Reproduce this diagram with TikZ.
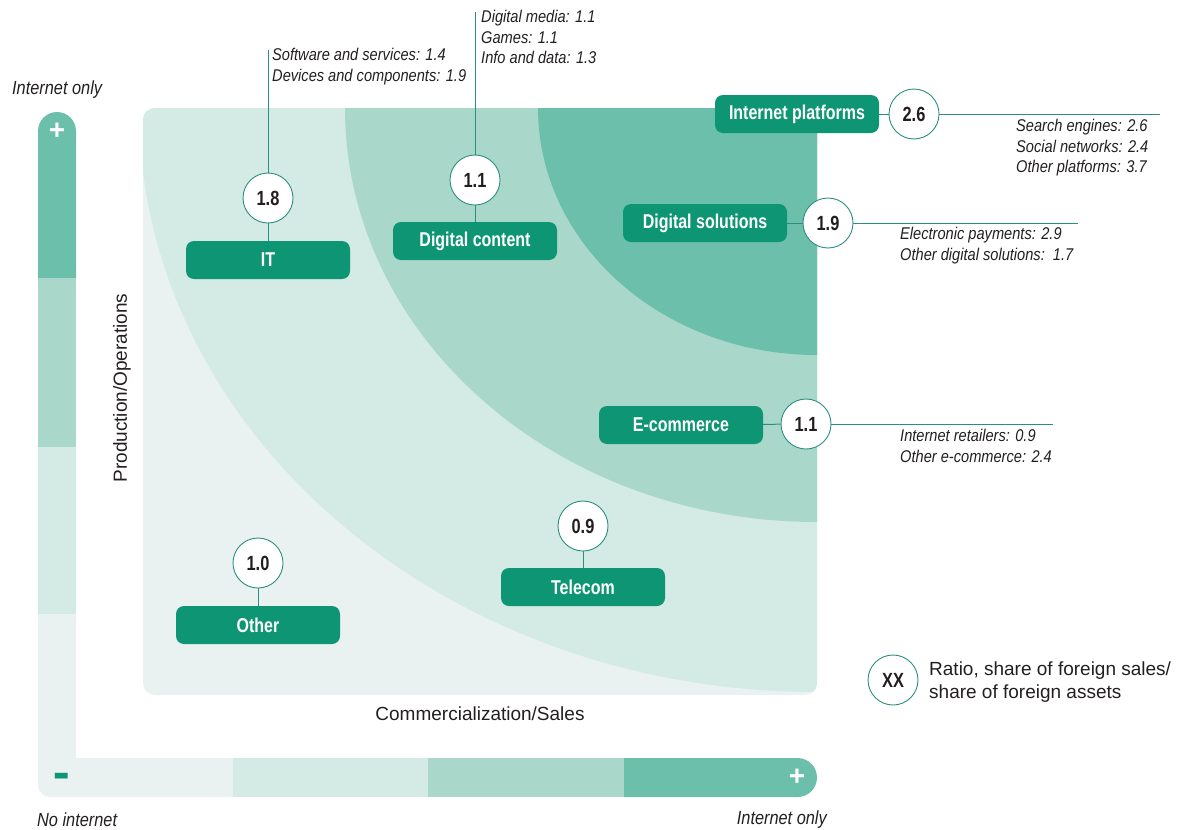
\documentclass[tikz,border=0pt]{standalone}
\usepackage{graphicx}
\usepackage{fontspec}
\setmainfont{Liberation Sans}
\newfontfamily\condf{Liberation Sans}[FakeStretch=0.8]
\newfontfamily\annf{Liberation Sans}[FakeStretch=0.86]
\definecolor{cL}{HTML}{E9F2F0}
\definecolor{cA}{HTML}{D4EAE4}
\definecolor{cB}{HTML}{A9D8CB}
\definecolor{cC}{HTML}{6CBFAB}
\definecolor{gnode}{HTML}{0E9674}
\definecolor{gline}{HTML}{2A8F7E}
\definecolor{txt}{HTML}{231F20}
\tikzset{
  box/.style={fill=gnode, rounded corners=8pt, minimum width=164pt, minimum height=38pt, text=white, font=\condf\bfseries\fontsize{20}{20}\selectfont, inner sep=0pt},
  num/.style={circle, draw=gline, line width=0.9pt, fill=white, minimum size=50pt, inner sep=0pt, text=txt, font=\condf\bfseries\fontsize{20.5}{20.5}\selectfont},
  ln/.style={draw=gline, line width=1pt},
  ann/.style={anchor=north west, align=left, inner sep=0pt, text=txt, font=\annf\itshape\fontsize{17}{20.5}\selectfont},
  axlab/.style={inner sep=0pt, text=txt, font=\annf\itshape\fontsize{19}{19}\selectfont},
  axis/.style={inner sep=0pt, text=txt, font=\fontsize{19}{19}\selectfont}
}
\begin{document}
\begin{tikzpicture}[x=1pt,y=-1pt]
\useasboundingbox (0,0) rectangle (1181,830);
% vertical bar
\fill[cC] (38,278) -- (38,131) arc[start angle=180, end angle=0, radius=19pt] -- (76,278) -- cycle;
\fill[cB] (38,278) rectangle (76,447);
\fill[cA] (38,447) rectangle (76,614);
\fill[cL] (76,614) -- (76,758) -- (233,758) -- (233,797) -- (50,797) arc[start angle=270, end angle=180, radius=12pt] -- (38,614) -- cycle;
% horizontal bar
\fill[cA] (233,758) rectangle (428,797);
\fill[cB] (428,758) rectangle (624,797);
\fill[cC] (624,758) -- (797.5,758) arc[start angle=90, end angle=-90, radius=19.5pt] -- (624,797) -- cycle;
\node[inner sep=0pt, text=white, font=\bfseries\fontsize{28}{28}\selectfont] (plusv) at (57,131) {+};
\node[inner sep=0pt, text=white, font=\bfseries\fontsize{28}{28}\selectfont] (plush) at (797,777) {+};
\node[inner sep=0pt, anchor=base, text=gnode, font=\bfseries\fontsize{26}{26}\selectfont] (minus) at (62,791) {\scalebox{1}[2.2]{–}};
% main box
\fill[cL, rounded corners=12pt] (143,108) rectangle (817,695);
\begin{scope}
\clip[rounded corners=12pt] (143,108) rectangle (817,695);
\fill[cA] (817,108) ellipse [x radius=678pt, y radius=584pt];
\fill[cB] (817,108) ellipse [x radius=472pt, y radius=414pt];
\fill[cC] (817,108) ellipse [x radius=279pt, y radius=247pt];
\end{scope}
% axis texts
\node[axlab, anchor=west] (tl) at (12,90) {Internet only};
\node[axlab, anchor=west] (bl) at (37,820) {No internet};
\node[axlab, anchor=east] (br) at (827,820) {Internet only};
\node[axis, rotate=90] (yax) at (122,388) {Production/Operations};
\node[axis] (xax) at (480,714) {Commercialization/Sales};
% IT
\node[box] (it) at (268,260) {IT};
\node[num] (n18) at (268,198) {1.8};
\coordinate (itTop) at (268,50);
\draw[ln] (it) -- (n18);
\draw[ln] (n18) -- (itTop);
\node[ann] (itTxt) at (272,48) {Software and services: 1.4\\Devices and components: 1.9};
% Digital content
\node[box] (dc) at (475,241) {Digital content};
\node[num] (n11a) at (475,180) {1.1};
\coordinate (dcTop) at (475,12);
\draw[ln] (dc) -- (n11a);
\draw[ln] (n11a) -- (dcTop);
\node[ann] (dcTxt) at (481,10) {Digital media: 1.1\\Games: 1.1\\Info and data: 1.3};
% Internet platforms
\node[box] (ip) at (797,114) {Internet platforms};
\node[num] (n26) at (914,114) {2.6};
\coordinate (ipEnd) at (1160,114);
\draw[ln] (ip) -- (n26);
\draw[ln] (n26) -- (ipEnd);
\node[ann] (ipTxt) at (1016,119) {Search engines: 2.6\\Social networks: 2.4\\Other platforms: 3.7};
% Digital solutions
\node[box] (ds) at (705,223) {Digital solutions};
\node[num] (n19) at (828,223) {1.9};
\coordinate (dsEnd) at (1078,223);
\draw[ln] (ds) -- (n19);
\draw[ln] (n19) -- (dsEnd);
\node[ann] (dsTxt) at (900,227) {Electronic payments: 2.9\\Other digital solutions:\ \ 1.7};
% E-commerce
\node[box] (ec) at (681,425) {E-commerce};
\node[num] (n11b) at (806,424) {1.1};
\coordinate (ecEnd) at (1053,424);
\draw[ln] (ec) -- (n11b);
\draw[ln] (n11b) -- (ecEnd);
\node[ann] (ecTxt) at (900,429) {Internet retailers: 0.9\\Other e-commerce: 2.4};
% Telecom
\node[box] (tc) at (583,587) {Telecom};
\node[num] (n09) at (583,526) {0.9};
\draw[ln] (tc) -- (n09);
% Other
\node[box] (ot) at (258,625) {Other};
\node[num] (n10) at (258,563) {1.0};
\draw[ln] (ot) -- (n10);
% legend
\node[num] (lg) at (893,680) {XX};
\node[anchor=west, align=left, inner sep=0pt, text=txt, font=\fontsize{19}{23}\selectfont] (lgTxt) at (929,682) {Ratio, share of foreign sales/\\share of foreign assets};
\end{tikzpicture}
\end{document}
